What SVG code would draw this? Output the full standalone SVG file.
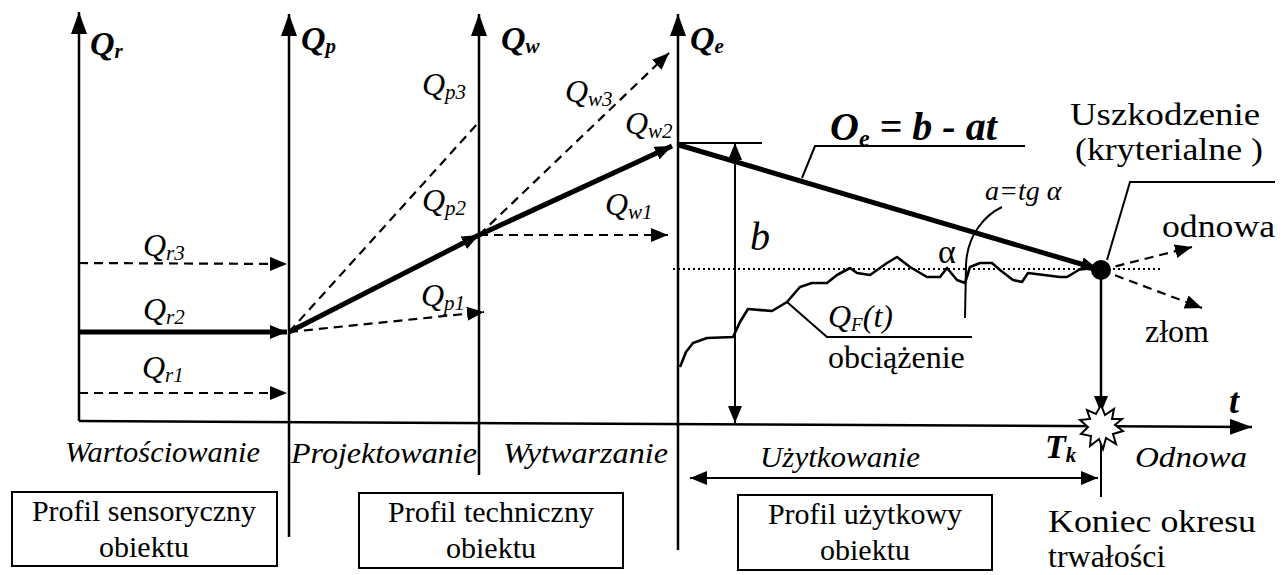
<svg xmlns="http://www.w3.org/2000/svg" width="1288" height="575" viewBox="0 0 1288 575" font-family="'Liberation Serif', serif">
<style>
text{font-family:'Liberation Serif','Times New Roman',serif;fill:#000}
.it{font-style:italic}
.bi{font-style:italic;font-weight:bold}
.ax{stroke:#000;stroke-width:2.5;fill:none}
.th{stroke:#000;stroke-width:5;fill:none}
.ds{stroke:#000;stroke-width:2.2;stroke-dasharray:9,6;fill:none}
.tn{stroke:#000;stroke-width:2;fill:none}
.box{stroke:#000;stroke-width:2;fill:#fff}
</style>
<defs>
<marker id="axh" markerUnits="userSpaceOnUse" markerWidth="24" markerHeight="16" refX="22" refY="8" orient="auto"><path d="M0,0 L22,8 L0,16 z" fill="#000"/></marker>
<marker id="ah" markerUnits="userSpaceOnUse" markerWidth="18" markerHeight="14" refX="17" refY="7" orient="auto"><path d="M0,0 L17,7 L0,14 z" fill="#000"/></marker>
<marker id="ahs" markerUnits="userSpaceOnUse" markerWidth="18" markerHeight="14" refX="0" refY="7" orient="auto"><path d="M17,0 L0,7 L17,14 z" fill="#000"/></marker>
</defs>

<g id="connectors">
<path class="ax" d="M79,421 L79,12" marker-end="url(#axh)"/>
<path class="ax" d="M289,537 L289,14" marker-end="url(#axh)"/>
<path class="ax" d="M479,475 L479,14" marker-end="url(#axh)"/>
<path class="ax" d="M678,550 L678,14" marker-end="url(#axh)"/>
<path class="ax" d="M79,421 L1252,427" marker-end="url(#axh)"/>
<path class="ds" d="M79,263 L287,264" marker-end="url(#ah)"/>
<path class="th" d="M79,332 L287,332" marker-end="url(#ah)"/>
<path class="ds" d="M79,393 L287,393" marker-end="url(#ah)"/>
<path class="ds" d="M289,332 L479,122"/>
<path class="th" d="M289,332 L479,235" marker-end="url(#ah)"/>
<path class="ds" d="M289,332 L484,312" marker-end="url(#ah)"/>
<path class="ds" d="M479,235 L669,53" marker-end="url(#ah)"/>
<path class="th" d="M479,235 L672,146" marker-end="url(#ah)"/>
<path class="ds" d="M479,235 L668,235" marker-end="url(#ah)"/>
<path class="tn" d="M677,143 L762,143"/>
<path class="tn" d="M735,423 L735,143" marker-end="url(#ah)"/>
<path class="tn" d="M735,300 L735,423" marker-end="url(#ah)"/>
<path class="th" d="M679,145 L1098,269" marker-end="url(#ah)"/>
<path d="M673,269 L1163,269" stroke="#000" stroke-width="1.8" stroke-dasharray="2,3" fill="none"/>
<path class="tn" d="M802,178 L815,146 L1025,146"/>
<polyline fill="none" stroke="#000" stroke-width="2.6" stroke-linejoin="round" points="680,367 686,352 693,343 707,338 733,337 740,322 748,309 772,311 787,302 800,287 812,283 827,283 837,275 850,268 857,273 870,275 887,263 897,257 910,267 927,277 940,277 947,268 957,280 965,283 970,267 980,263 992,263 1000,270 1013,280 1022,282 1028,273 1060,277 1067,277 1082,268 1095,270"/>
<path class="tn" d="M787,302 L827,337 L972,337"/>
<path class="tn" d="M1002,207 C985,215 967,235 966,265 L965,318"/>
<circle cx="1101" cy="270" r="10" fill="#000"/>
<path class="tn" d="M1107,260 L1130,182 L1275,182"/>
<path class="ds" d="M1101,270 L1192,247" marker-end="url(#ah)"/>
<path class="ds" d="M1101,270 L1202,308" marker-end="url(#ah)"/>
<path class="ax" d="M1101,270 L1101,413" marker-end="url(#ah)"/>
<path class="tn" d="M1101,440 L1101,497"/>
<polygon points="1101,405 1105,415 1114,409 1112,419 1122,419 1115,425 1123,431 1113,434 1116,444 1106,438 1103,449 1099,439 1090,446 1091,436 1081,434 1088,427 1080,420 1090,419 1087,410 1096,414" fill="#fff" stroke="#000" stroke-width="2"/>
<path class="tn" d="M690,478 L1098,478" marker-start="url(#ahs)" marker-end="url(#ah)"/>
</g>

<g id="axis-labels">
<text class="bi" x="90" y="55" font-size="34">Q<tspan font-size="21" dy="3">r</tspan></text>
<text class="bi" x="301" y="50" font-size="34">Q<tspan font-size="21" dy="3">p</tspan></text>
<text class="bi" x="501" y="50" font-size="34">Q<tspan font-size="21" dy="3">w</tspan></text>
<text class="bi" x="690" y="50" font-size="34">Q<tspan font-size="21" dy="3">e</tspan></text>
<text class="bi" x="1229" y="413" font-size="36">t</text>
</g>

<g id="value-labels">
<text class="it" x="143" y="256" font-size="32">Q<tspan font-size="21" dy="4">r3</tspan></text>
<text class="it" x="143" y="320" font-size="32">Q<tspan font-size="21" dy="4">r2</tspan></text>
<text class="it" x="142" y="378" font-size="32">Q<tspan font-size="21" dy="4">r1</tspan></text>
<text class="it" x="422" y="95" font-size="32">Q<tspan font-size="21" dy="4">p3</tspan></text>
<text class="it" x="422" y="211" font-size="32">Q<tspan font-size="21" dy="4">p2</tspan></text>
<text class="it" x="421" y="306" font-size="32">Q<tspan font-size="21" dy="4">p1</tspan></text>
<text class="it" x="565" y="102" font-size="32">Q<tspan font-size="21" dy="4">w3</tspan></text>
<text class="it" x="625" y="134" font-size="32">Q<tspan font-size="21" dy="4">w2</tspan></text>
<text class="it" x="605" y="215" font-size="32">Q<tspan font-size="21" dy="4">w1</tspan></text>
</g>

<g id="formula">
<text class="bi" x="830" y="140" font-size="40">O<tspan font-size="24" dy="6">e</tspan><tspan dy="-6"> = b - at</tspan></text>
<text class="it" x="750" y="250" font-size="40">b</text>
<text class="it" x="985" y="200" font-size="28">a=tg α</text>
<text x="938" y="263" font-size="34">α</text>
</g>

<g id="load">
<text class="it" x="828" y="327" font-size="32">Q<tspan font-size="19" dy="4">F</tspan><tspan dy="-4">(t)</tspan></text>
<text x="828" y="368" font-size="32">obciążenie</text>
</g>

<g id="damage">
<text x="1070" y="125" font-size="32" textLength="190" lengthAdjust="spacingAndGlyphs">Uszkodzenie</text>
<text x="1075" y="160" font-size="32" textLength="188" lengthAdjust="spacingAndGlyphs">(kryterialne )</text>
<text x="1162" y="237" font-size="32" textLength="113" lengthAdjust="spacingAndGlyphs">odnowa</text>
<text x="1145" y="342" font-size="32">złom</text>
</g>

<g id="phases">
<text class="it" x="65" y="462" font-size="30" textLength="195" lengthAdjust="spacingAndGlyphs">Wartościowanie</text>
<text class="it" x="291" y="463" font-size="30" textLength="186" lengthAdjust="spacingAndGlyphs">Projektowanie</text>
<text class="it" x="503" y="463" font-size="30" textLength="165" lengthAdjust="spacingAndGlyphs">Wytwarzanie</text>
<text class="it" x="760" y="467" font-size="30" textLength="160" lengthAdjust="spacingAndGlyphs">Użytkowanie</text>
<text class="bi" x="1045" y="458" font-size="34">T<tspan font-size="21" dy="4">k</tspan></text>
<text class="it" x="1135" y="467" font-size="30" textLength="112" lengthAdjust="spacingAndGlyphs">Odnowa</text>
</g>

<g id="box-sensoryczny">
<rect class="box" x="12" y="492" width="265" height="74"/>
<text x="144" y="521" font-size="30" text-anchor="middle">Profil sensoryczny</text>
<text x="144" y="557" font-size="30" text-anchor="middle">obiektu</text>
</g>
<g id="box-techniczny">
<rect class="box" x="359" y="493" width="264" height="75"/>
<text x="491" y="522" font-size="30" text-anchor="middle">Profil techniczny</text>
<text x="491" y="558" font-size="30" text-anchor="middle">obiektu</text>
</g>
<g id="box-uzytkowy">
<rect class="box" x="738" y="495" width="254" height="75"/>
<text x="865" y="524" font-size="30" text-anchor="middle">Profil użytkowy</text>
<text x="865" y="560" font-size="30" text-anchor="middle">obiektu</text>
</g>

<g id="end-label">
<text x="1048" y="532" font-size="32" textLength="208" lengthAdjust="spacingAndGlyphs">Koniec okresu</text>
<text x="1048" y="567" font-size="32">trwałości</text>
</g>
</svg>
